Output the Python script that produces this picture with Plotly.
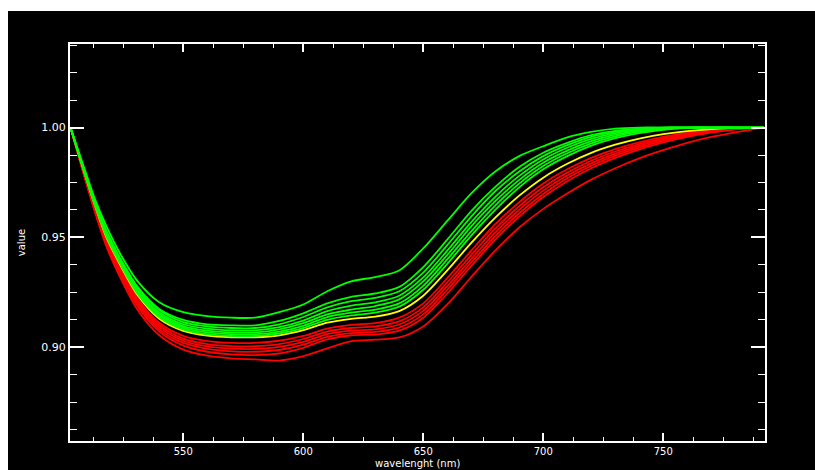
import plotly.graph_objects as go

wavelength = [503, 508, 513, 518, 524, 531, 540, 550, 560, 570, 580, 590, 600, 610, 620, 630,
              640, 650, 660, 670, 680, 690, 700, 710, 720, 730, 740, 750, 760, 770, 780, 792]

green_curves = [
    [1.0, 0.984, 0.968, 0.955, 0.942, 0.930, 0.9205, 0.9160, 0.9142, 0.9135, 0.9135, 0.9160, 0.9195, 0.9255, 0.9300, 0.9320,
     0.9350, 0.9450, 0.9575, 0.9700, 0.9800, 0.9870, 0.9915, 0.9955, 0.9980, 0.9995, 1.0, 1.0, 1.0, 1.0, 1.0, 1.0],
    [1.0, 0.983, 0.967, 0.953, 0.940, 0.9275, 0.9175, 0.9125, 0.9105, 0.9100, 0.9100, 0.9120, 0.9155, 0.9200, 0.9230, 0.9245,
     0.9275, 0.9365, 0.9490, 0.9620, 0.9730, 0.9820, 0.9885, 0.9930, 0.9965, 0.9985, 0.9995, 1.0, 1.0, 1.0, 1.0, 1.0],
    [1.0, 0.983, 0.9665, 0.9525, 0.9395, 0.927, 0.917, 0.9115, 0.9095, 0.9088, 0.9088, 0.9105, 0.9138, 0.9182, 0.9210, 0.9225,
     0.9255, 0.9340, 0.9465, 0.9595, 0.9710, 0.9800, 0.9870, 0.9920, 0.9958, 0.9980, 0.9993, 1.0, 1.0, 1.0, 1.0, 1.0],
    [1.0, 0.9828, 0.9662, 0.952, 0.939, 0.9262, 0.916, 0.9105, 0.9085, 0.9077, 0.9077, 0.9092, 0.9122, 0.9165, 0.9190, 0.9205,
     0.9235, 0.9318, 0.9440, 0.9570, 0.9685, 0.9780, 0.9855, 0.9908, 0.9948, 0.9975, 0.9990, 0.9998, 1.0, 1.0, 1.0, 1.0],
    [1.0, 0.9826, 0.966, 0.9515, 0.9385, 0.9255, 0.9152, 0.9097, 0.9076, 0.9068, 0.9068, 0.9082, 0.9110, 0.9150, 0.9172, 0.9188,
     0.9218, 0.9300, 0.9420, 0.9550, 0.9665, 0.9762, 0.9840, 0.9895, 0.9938, 0.9968, 0.9986, 0.9996, 1.0, 1.0, 1.0, 1.0],
    [1.0, 0.9825, 0.9657, 0.951, 0.938, 0.925, 0.9145, 0.909, 0.9068, 0.9060, 0.9060, 0.9072, 0.9098, 0.9138, 0.9158, 0.9172,
     0.9200, 0.9280, 0.9400, 0.9528, 0.9645, 0.9745, 0.9825, 0.9883, 0.9928, 0.9960, 0.9981, 0.9993, 0.9999, 1.0, 1.0, 1.0],
    [1.0, 0.9823, 0.9654, 0.9505, 0.9375, 0.9243, 0.9138, 0.9082, 0.9060, 0.9052, 0.9052, 0.9063, 0.9088, 0.9125, 0.9145, 0.9158,
     0.9185, 0.9262, 0.9380, 0.9508, 0.9625, 0.9728, 0.9810, 0.9870, 0.9918, 0.9952, 0.9975, 0.9990, 0.9997, 1.0, 1.0, 1.0],
]

yellow_curves = [
    [1.0, 0.9822, 0.9652, 0.950, 0.937, 0.9237, 0.9130, 0.9075, 0.9053, 0.9046, 0.9046, 0.9055, 0.9078, 0.9112, 0.9130, 0.9140,
     0.9165, 0.9235, 0.9350, 0.9475, 0.9590, 0.9690, 0.9772, 0.9835, 0.9885, 0.9922, 0.9950, 0.9970, 0.9984, 0.9993, 0.9998, 1.0],
]

red_curves = [
    [1.0, 0.9818, 0.9645, 0.9492, 0.9358, 0.9222, 0.9112, 0.9052, 0.9028, 0.9020, 0.9020, 0.9030, 0.9052, 0.9085, 0.9102, 0.9110,
     0.9135, 0.9200, 0.9315, 0.9440, 0.9560, 0.9660, 0.9745, 0.9810, 0.9862, 0.9902, 0.9933, 0.9958, 0.9976, 0.9989, 0.9996, 1.0],
    [1.0, 0.9816, 0.9641, 0.9486, 0.935, 0.9213, 0.9102, 0.9040, 0.9015, 0.9006, 0.9006, 0.9015, 0.9038, 0.9072, 0.9088, 0.9095,
     0.9118, 0.9182, 0.9295, 0.9420, 0.9540, 0.9642, 0.9728, 0.9795, 0.9849, 0.9891, 0.9925, 0.9951, 0.9971, 0.9986, 0.9995, 1.0],
    [1.0, 0.9814, 0.9637, 0.948, 0.9342, 0.9204, 0.9092, 0.9030, 0.9004, 0.8994, 0.8993, 0.9002, 0.9025, 0.9060, 0.9076, 0.9082,
     0.9104, 0.9166, 0.9278, 0.9402, 0.9522, 0.9626, 0.9713, 0.9782, 0.9837, 0.9881, 0.9917, 0.9945, 0.9967, 0.9983, 0.9994, 1.0],
    [1.0, 0.9812, 0.9633, 0.9474, 0.9334, 0.9195, 0.9082, 0.9020, 0.8993, 0.8982, 0.8980, 0.8988, 0.9012, 0.9048, 0.9065, 0.9070,
     0.9090, 0.9150, 0.9262, 0.9386, 0.9505, 0.9610, 0.9698, 0.9769, 0.9826, 0.9872, 0.9909, 0.9939, 0.9962, 0.9980, 0.9993, 1.0],
    [1.0, 0.9810, 0.9629, 0.9468, 0.9326, 0.9186, 0.9072, 0.9008, 0.8980, 0.8968, 0.8965, 0.8972, 0.8998, 0.9036, 0.9055, 0.9058,
     0.9076, 0.9135, 0.9245, 0.9370, 0.9490, 0.9595, 0.9684, 0.9756, 0.9815, 0.9862, 0.9901, 0.9933, 0.9958, 0.9977, 0.9991, 1.0],
    [1.0, 0.9807, 0.9622, 0.9458, 0.9312, 0.9170, 0.9055, 0.8990, 0.8962, 0.8950, 0.8945, 0.8940, 0.8960, 0.8995, 0.9028, 0.9035,
     0.9045, 0.9095, 0.9195, 0.9320, 0.9440, 0.9545, 0.9630, 0.9700, 0.9763, 0.9815, 0.9860, 0.9897, 0.9930, 0.9957, 0.9978, 1.0],
]

x_ticks = [550, 600, 650, 700, 750]
y_ticks = [0.90, 0.95, 1.00]
x_range = [502.8, 792.4]
y_range = [0.8574, 1.038]
x_title = "wavelenght (nm)"
y_title = "value"

fig = go.Figure()

def add(curves, color):
    for c in curves:
        fig.add_trace(go.Scatter(x=wavelength, y=c, mode="lines",
                                 line=dict(color=color, width=1.8, shape="spline", smoothing=0.8),
                                 showlegend=False, hoverinfo="skip"))

add(red_curves, "#ff0000")
add(yellow_curves, "#ffff00")
add(green_curves, "#00ff00")

W, H = 815, 470
L, R, T, B = 70, 765, 44, 441
pw, ph = R - L, B - T

fig.add_shape(type="rect", xref="paper", yref="paper",
              x0=(8 - L) / pw, x1=(W + 5 - L) / pw,
              y0=(B - (H + 5)) / ph, y1=(B - 11) / ph,
              fillcolor="black", line=dict(width=0), layer="below")

font = dict(family="DejaVu Sans", size=11, color="white")
tfont = dict(family="DejaVu Sans", size=10, color="white")

fig.add_annotation(text=x_title, xref="paper", yref="paper",
                   x=(418 - L) / pw, y=(B - 463.5) / ph, xanchor="center", yanchor="middle",
                   showarrow=False, font=tfont)

fig.update_layout(
    width=W, height=H,
    margin=dict(l=L, r=W - R, t=T, b=H - B, pad=0),
    paper_bgcolor="white", plot_bgcolor="black",
    font=font,
    xaxis=dict(range=x_range, tickvals=x_ticks, ticktext=[str(v) for v in x_ticks], automargin=False,
               showgrid=False, zeroline=False, showline=True, linecolor="white", linewidth=2,
               mirror="allticks", ticks="inside", ticklen=8, tickwidth=1.5, tickcolor="white",
               minor=dict(dtick=12.5, tick0=500, ticks="inside", ticklen=4, tickcolor="white", tickwidth=1),
               tickfont=tfont),
    yaxis=dict(range=y_range, tickvals=y_ticks, ticktext=["%.2f" % v for v in y_ticks], automargin=False,
               showgrid=False, zeroline=False, showline=True, linecolor="white", linewidth=2,
               mirror="allticks", ticks="inside", ticklen=14, tickwidth=1.5, tickcolor="white",
               minor=dict(dtick=0.0125, tick0=0.9, ticks="inside", ticklen=7, tickcolor="white", tickwidth=1),
               tickfont=font,
               title=dict(text=y_title, font=tfont, standoff=14)),
)

fig.write_html("out.html")
